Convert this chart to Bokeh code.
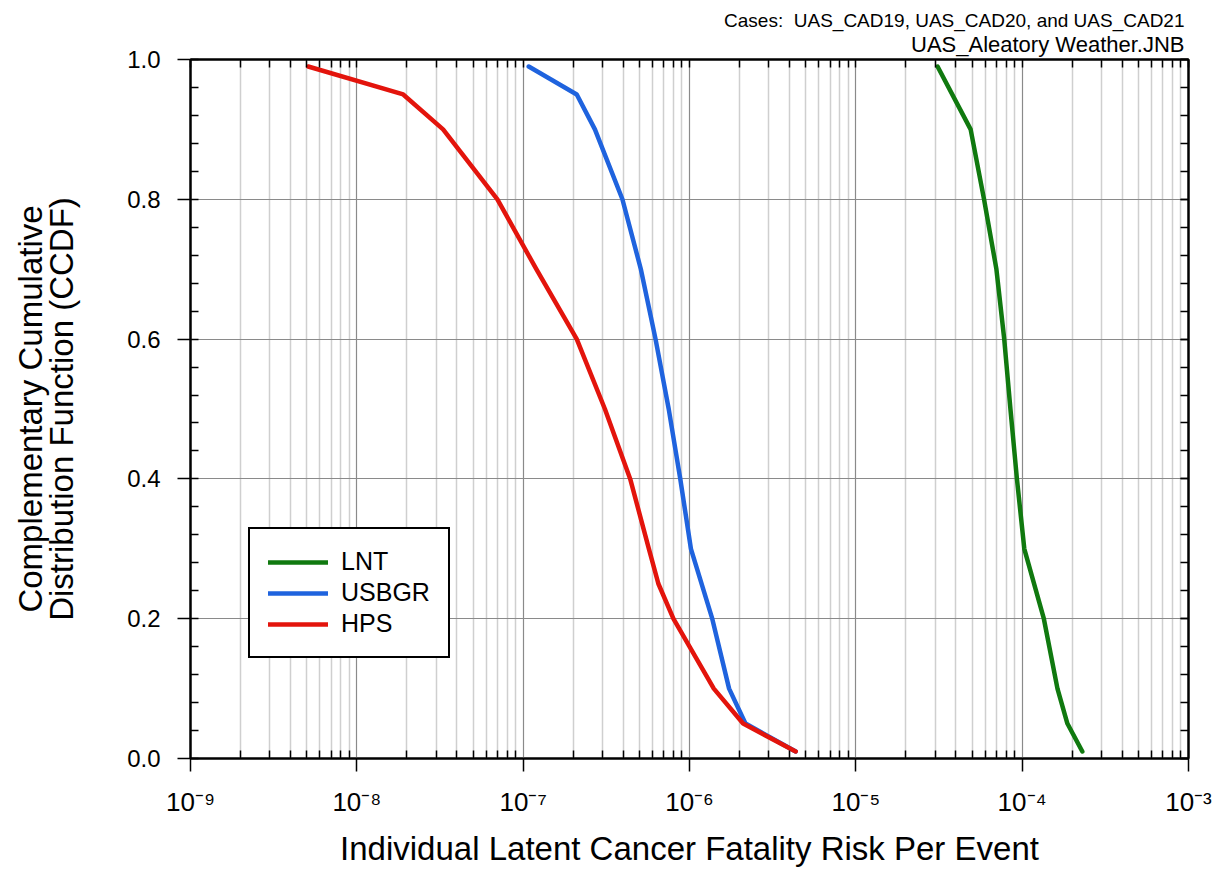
from bokeh.plotting import figure
from bokeh.models import (LogAxis, LinearAxis, FixedTicker, SingleIntervalTicker, Title,
                          Legend, LegendItem, PrintfTickFormatter, CustomJSTickFormatter, Range1d)
from bokeh.embed import file_html
from bokeh.resources import INLINE

# ---------------- data ----------------
ccdf_lnt = [0.99, 0.9, 0.8, 0.7, 0.6, 0.5, 0.4, 0.3, 0.2, 0.1, 0.05, 0.01]
risk_lnt = [3.1e-5, 4.9e-5, 5.9e-5, 7.0e-5, 7.8e-5, 8.5e-5, 9.3e-5, 1.03e-4, 1.35e-4, 1.63e-4, 1.87e-4, 2.3e-4]

ccdf_usbgr = [0.99, 0.95, 0.9, 0.8, 0.7, 0.6, 0.5, 0.4, 0.3, 0.2, 0.1, 0.05, 0.01]
risk_usbgr = [1.08e-7, 2.1e-7, 2.7e-7, 3.95e-7, 5.1e-7, 6.25e-7, 7.5e-7, 8.8e-7, 1.02e-6, 1.37e-6, 1.73e-6, 2.17e-6, 4.35e-6]

ccdf_hps = [0.99, 0.95, 0.9, 0.8, 0.7, 0.6, 0.5, 0.4, 0.3, 0.25, 0.2, 0.1, 0.05, 0.01]
risk_hps = [5.1e-9, 1.9e-8, 3.3e-8, 7.0e-8, 1.2e-7, 2.1e-7, 3.1e-7, 4.4e-7, 5.7e-7, 6.5e-7, 8.0e-7, 1.4e-6, 2.1e-6, 4.35e-6]

series_names = ["LNT", "USBGR", "HPS"]
series_colors = ["#10790f", "#1f63de", "#e3140c"]

decades = [-9, -8, -7, -6, -5, -4, -3]
title_lines = ["Cases:\u00a0 UAS_CAD19, UAS_CAD20, and UAS_CAD21", "UAS_Aleatory Weather.JNB"]
title_sizes = ["19px", "22px"]
title_standoffs = [-6, 5]
x_label = "Individual Latent Cancer Fatality Risk Per Event"
y_label_lines = ["Complementary Cumulative", "Distribution Function (CCDF)"]

FONT = "Liberation Sans"

# ---------------- figure ----------------
x_lo, x_hi = 10.0 ** decades[0], 10.0 ** decades[-1]
p = figure(width=1212, height=876, x_axis_type="log",
           x_range=Range1d(x_lo, x_hi), y_range=Range1d(0, 1),
           output_backend="svg", toolbar_location=None,
           min_border_left=190, min_border_right=24, min_border_top=59, min_border_bottom=118)
p.background_fill_color = "white"
p.border_fill_color = "white"
p.outline_line_color = "black"
p.outline_line_width = 2

major_x = [10.0 ** e for e in decades]
minor_x = [m * 10.0 ** e for e in decades[:-1] for m in range(2, 10)]
xticker = FixedTicker(ticks=major_x, minor_ticks=minor_x)
yticker = SingleIntervalTicker(interval=0.2, num_minor_ticks=5)

sup_formatter = CustomJSTickFormatter(code="""
const sup = {"-": "\u207b", "0": "\u2070", "1": "\u00b9", "2": "\u00b2", "3": "\u00b3",
             "4": "\u2074", "5": "\u2075", "6": "\u2076", "7": "\u2077", "8": "\u2078", "9": "\u2079"};
const e = Math.round(Math.log10(tick));
return "10" + String(e).split("").map(c => sup[c]).join("");
""")
blank = CustomJSTickFormatter(code="return ''")

def style_ticks(ax, out, inn):
    ax.axis_line_width = 2
    ax.axis_line_color = "black"
    ax.major_tick_out = out
    ax.major_tick_in = inn
    ax.minor_tick_in = 8
    ax.minor_tick_out = 0
    ax.major_tick_line_width = 1.5
    ax.minor_tick_line_width = 1.5
    ax.major_tick_line_color = "black"
    ax.minor_tick_line_color = "black"

# bottom axis
xa = p.xaxis[0]
xa.ticker = xticker
xa.formatter = sup_formatter
style_ticks(xa, 13, 0)
xa.major_label_text_font = FONT
xa.major_label_text_font_size = "26px"
xa.major_label_text_color = "black"
xa.major_label_standoff = 15
xa.axis_label = x_label
xa.axis_label_text_font = FONT
xa.axis_label_text_font_size = "33px"
xa.axis_label_text_font_style = "normal"
xa.axis_label_text_color = "black"
xa.axis_label_standoff = 10

# left axis (carries second line of the y label)
ya = p.yaxis[0]
ya.ticker = yticker
ya.formatter = PrintfTickFormatter(format="%.1f")
style_ticks(ya, 13, 0)
ya.major_label_text_font = FONT
ya.major_label_text_font_size = "24px"
ya.major_label_text_color = "black"
ya.major_label_standoff = 17
ya.axis_label = y_label_lines[1]
ya.axis_label_text_font = FONT
ya.axis_label_text_font_size = "33px"
ya.axis_label_text_font_style = "normal"
ya.axis_label_text_color = "black"
ya.axis_label_standoff = 44

# extra, invisible left axis carrying the first line of the y label
ya2 = LinearAxis(ticker=yticker, formatter=blank, major_label_text_font_size="0px",
                 axis_line_color=None, major_tick_line_color=None, minor_tick_line_color=None,
                 major_tick_out=0, major_tick_in=0, minor_tick_out=0, minor_tick_in=0,
                 major_label_standoff=0, axis_label_standoff=-8,
                 axis_label=y_label_lines[0], axis_label_text_font=FONT,
                 axis_label_text_font_size="33px", axis_label_text_font_style="normal",
                 axis_label_text_color="black")
p.add_layout(ya2, "left")

# top and right axes (ticks inward, no labels)
top = LogAxis(ticker=xticker, formatter=blank, major_label_text_font_size="0px",
              major_label_standoff=0)
style_ticks(top, 0, 8)
p.add_layout(top, "above")
right = LinearAxis(ticker=yticker, formatter=blank, major_label_text_font_size="0px",
                   major_label_standoff=0)
style_ticks(right, 0, 8)
p.add_layout(right, "right")

# header lines, right aligned above the plot
for t, fs, so in reversed(list(zip(title_lines, title_sizes, title_standoffs))):
    p.add_layout(Title(text=t, align="right", text_font=FONT, text_font_size=fs,
                       text_font_style="normal", text_color="black", standoff=so, offset=4), "above")

# grids
p.xgrid.ticker = xticker
p.xgrid.grid_line_color = "#8a8a8a"
p.xgrid.grid_line_width = 1.2
p.xgrid.minor_grid_line_color = "#cfcfcf"
p.xgrid.minor_grid_line_width = 1.5
p.ygrid.ticker = yticker
p.ygrid.grid_line_color = "#8a8a8a"
p.ygrid.grid_line_width = 1.2

# curves
xs = [risk_lnt, risk_usbgr, risk_hps]
ys = [ccdf_lnt, ccdf_usbgr, ccdf_hps]
items = []
for name, color, x, y in zip(series_names, series_colors, xs, ys):
    r = p.line(x, y, line_color=color, line_width=4.5, line_join="round", line_cap="round")
    items.append(LegendItem(label=name, renderers=[r]))

legend = Legend(items=items, location=(58, 100))
legend.border_line_color = "black"
legend.border_line_width = 2
legend.border_line_alpha = 1
legend.background_fill_color = "white"
legend.background_fill_alpha = 1
legend.label_text_font = FONT
legend.label_text_font_size = "25px"
legend.label_text_color = "black"
legend.glyph_width = 60
legend.glyph_height = 24
legend.label_height = 24
legend.spacing = 2
legend.padding = 18
legend.label_standoff = 13
legend.margin = 0
p.add_layout(legend)

open("out.html", "w").write(file_html(p, INLINE))
